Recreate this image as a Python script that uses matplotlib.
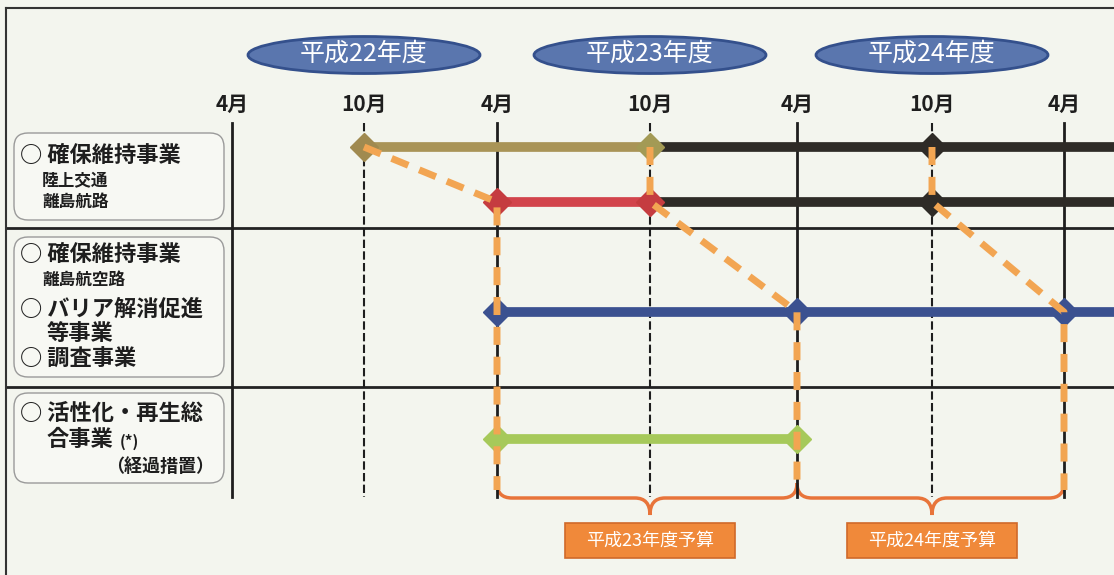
import numpy as np
import matplotlib.pyplot as plt
from matplotlib.patches import Ellipse, FancyBboxPatch, PathPatch
from matplotlib.path import Path

plt.rcParams['font.family'] = ['Noto Sans CJK JP', 'DejaVu Sans']

# ---- data ---------------------------------------------------------------
tick_months = [0, 6, 12, 18, 24, 30, 36]          # months from 4月 H22
tick_labels = ['4月', '10月', '4月', '10月', '4月', '10月', '4月']
fy_labels = ['平成22年度', '平成23年度', '平成24年度']
fy_mid = [6, 18, 30]
budget_labels = ['平成23年度予算', '平成24年度予算']
budget_start = [12, 24]
budget_end = [24, 36]

OPEN = 42  # bar keeps running past the right edge
bar_line = [0, 1, 0, 1, 2, 3]
bar_start = [6, 12, 18, 18, 12, 12]
bar_end = [18, 18, OPEN, OPEN, OPEN, 24]
bar_color = ['#a99457', '#d2444c', '#2e2b27', '#2e2b27', '#3b5190', '#a6c95a']

dia_line = [0, 0, 0, 1, 1, 1, 2, 2, 2, 3, 3]
dia_month = [6, 18, 30, 12, 18, 30, 12, 24, 36, 12, 24]
dia_color = ['#a08a50', '#a39a55', '#2e2b27', '#c53c40', '#c53c40', '#2e2b27',
             '#3b5190', '#3b5190', '#3b5190', '#a6c95a', '#a6c95a']

# orange budget flow: (month, line index), line 4 = bottom
flow = [[(6, 0), (12, 1), (12, 4)],
        [(18, 0), (18, 1), (24, 2), (24, 4)],
        [(30, 0), (30, 1), (36, 2), (36, 4)]]

row_labels = [
    ('○ 確保維持事業', 20, 155, 16), ('陸上交通', 42, 180, 12), ('離島航路', 42, 202, 12),
    ('○ 確保維持事業', 20, 254, 16), ('離島航空路', 42, 280, 12),
    ('○ バリア解消促進', 20, 309, 16), ('等事業', 47, 333, 16), ('○ 調査事業', 20, 359, 16),
    ('○ 活性化・再生総', 20, 413, 16), ('合事業', 47, 440, 16),
]

# ---- layout -------------------------------------------------------------
W, H = 1114, 575
# where each month tick sits across the page (the scan is not evenly spaced)
tick_px = [232, 364, 497, 650, 797, 932, 1064]
line_y = [147, 202, 312, 439, 490]


def fwd(m):
    m = np.asarray(m, dtype=float)
    lo = tick_px[0] + (m - tick_months[0]) * (tick_px[1] - tick_px[0]) / 6
    hi = tick_px[-1] + (m - tick_months[-1]) * (tick_px[-1] - tick_px[-2]) / 6
    mid = np.interp(m, tick_months, tick_px)
    return np.where(m < tick_months[0], lo, np.where(m > tick_months[-1], hi, mid))


def inv(p):
    p = np.asarray(p, dtype=float)
    lo = tick_months[0] + (p - tick_px[0]) * 6 / (tick_px[1] - tick_px[0])
    hi = tick_months[-1] + (p - tick_px[-1]) * 6 / (tick_px[-1] - tick_px[-2])
    mid = np.interp(p, tick_px, tick_months)
    return np.where(p < tick_px[0], lo, np.where(p > tick_px[-1], hi, mid))


BG = '#f3f5ee'
fig = plt.figure(figsize=(W / 100, H / 100), dpi=100)
fig.patch.set_facecolor(BG)

# page axes in pixel units for the decoration
pg = fig.add_axes([0, 0, 1, 1])
pg.set_facecolor(BG)
pg.set_xlim(0, W)
pg.set_ylim(H, 0)
pg.axis('off')

# timeline axes, month scale
ax = fig.add_axes([0, 0, 1, 1], sharey=pg)
ax.set_xscale('function', functions=(fwd, inv))
ax.set_xlim(float(inv(0)), float(inv(W)))
ax.patch.set_alpha(0)
ax.axis('off')

# frame
pg.plot([6, W], [8, 8], color='#333333', lw=1.5)
pg.plot([6, 6], [8, H], color='#333333', lw=1.5)
for y in [228, 387]:
    pg.plot([6, W], [y, y], color='#222222', lw=2, zorder=1)

# month grid
for m, lab in zip(tick_months, tick_labels):
    if lab == '4月':
        ax.plot([m, m], [123, 497], color='#1e1e1e', lw=2, zorder=1)
    else:
        ax.plot([m, m], [123, 497], color='#1e1e1e', lw=1.5, ls=(0, (4, 1.6)), zorder=1)
    ax.text(m, 104, lab, ha='center', va='center', fontsize=15, fontweight='bold', color='#1e1e1e')

# fiscal-year ellipses
for m, lab in zip(fy_mid, fy_labels):
    cx = float(fwd(m))
    pg.add_patch(Ellipse((cx, 55), 232, 37, facecolor='#5a76ae', edgecolor='#34508c', lw=2, zorder=2))
    pg.text(cx, 54, lab, ha='center', va='center', fontsize=18, color='white', zorder=3)

# left label boxes
for top, bot in [(133, 220), (237, 377), (393, 483)]:
    pg.add_patch(FancyBboxPatch((14, top), 210, bot - top,
                                boxstyle='round,pad=0,rounding_size=14',
                                facecolor='#f7f8f3', edgecolor='#9a9a9a', lw=1, zorder=2))
for txt, x, y, fs in row_labels:
    pg.text(x, y, txt, ha='left', va='center', fontsize=fs, fontweight='bold', color='#1e1e1e', zorder=3)
pg.text(120, 442, '(*)', ha='left', va='center', fontsize=11, fontweight='bold', color='#1e1e1e', zorder=3)
pg.text(214, 467, '（経過措置）', ha='right', va='center', fontsize=13, fontweight='bold', color='#1e1e1e', zorder=3)

# bars
for ln, s, e, c in zip(bar_line, bar_start, bar_end, bar_color):
    ax.plot([s, e], [line_y[ln], line_y[ln]], color=c, lw=7, solid_capstyle='butt', zorder=3)
for ln, m, c in zip(dia_line, dia_month, dia_color):
    ax.plot(m, line_y[ln], marker='D', ms=14, color=c, mec=c, zorder=4)

# orange flow
for path in flow:
    xs = [p[0] for p in path]
    ys = [line_y[p[1]] for p in path]
    ax.plot(xs, ys, color='#f2a552', lw=5, ls=(0, (2.6, 1.7)), dash_capstyle='butt', zorder=5)

# braces + budget labels
r = 15
for s, e, lab in zip(budget_start, budget_end, budget_labels):
    ps, pe, pc = float(fwd(s)), float(fwd(e)), float(fwd((s + e) / 2))
    yt, yb, ytip = 483, 498, 515
    verts = [(ps, yt), (ps, yb), (ps + r, yb), (pc - r, yb), (pc, yb), (pc, ytip),
             (pc, yb), (pc + r, yb), (pe - r, yb), (pe, yb), (pe, yt)]
    codes = [Path.MOVETO, Path.CURVE3, Path.CURVE3, Path.LINETO, Path.CURVE3, Path.CURVE3,
             Path.CURVE3, Path.CURVE3, Path.LINETO, Path.CURVE3, Path.CURVE3]
    pg.add_patch(PathPatch(Path(verts, codes), facecolor='none', edgecolor='#e8743a', lw=2.5, zorder=5))
    pg.add_patch(FancyBboxPatch((pc - 85, 523), 170, 35, boxstyle='square,pad=0',
                                facecolor='#f0893a', edgecolor='#d0692a', lw=1.2, zorder=5))
    pg.text(pc, 541, lab, ha='center', va='center', fontsize=13, color='white', zorder=6)

fig.savefig('out.png', dpi=100, facecolor=BG)
